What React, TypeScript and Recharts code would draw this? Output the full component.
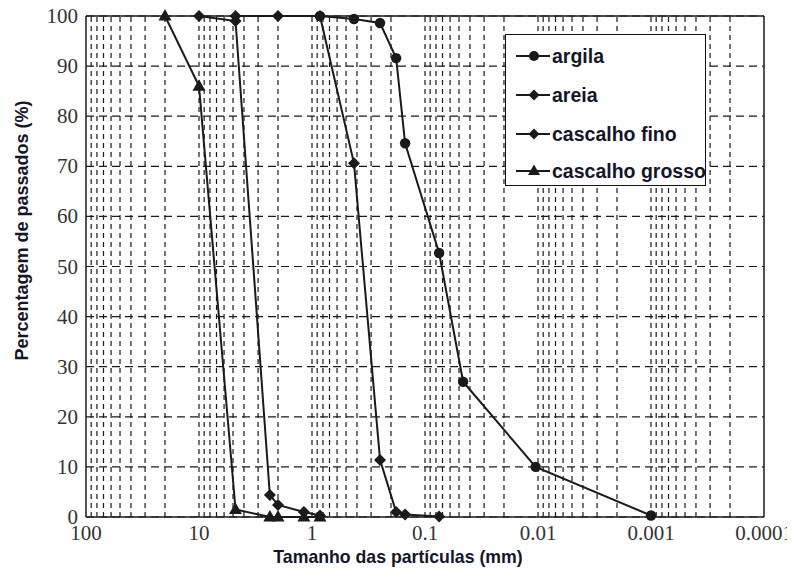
import React from 'react';
import { LineChart, Line, XAxis, YAxis, CartesianGrid, ReferenceLine, Legend, Label } from 'recharts';

// particle size (mm) and percentage passing for each material
const argilaSize = [0.85, 0.425, 0.25, 0.18, 0.15, 0.075, 0.046, 0.0105, 0.001];
const argilaPass = [100, 99.4, 98.6, 91.6, 74.6, 52.7, 27, 10, 0.3];
const areiaSize = [4.75, 2.0, 0.85, 0.425, 0.25, 0.18, 0.15, 0.075];
const areiaPass = [100, 100, 100, 70.6, 11.4, 1.0, 0.5, 0.1];
const finoSize = [10, 4.75, 2.36, 2.0, 1.18, 0.85];
const finoPass = [100, 99, 4.4, 2.4, 1.0, 0.3];
const grossoSize = [20, 10, 4.75, 2.36, 2.0, 1.18, 0.85];
const grossoPass = [100, 86, 1.5, 0, 0, 0, 0];

const xTicks = [100, 10, 1, 0.1, 0.01, 0.001, 0.0001];
const yTicks = [0, 10, 20, 30, 40, 50, 60, 70, 80, 90, 100];
const seriesNames = ['argila', 'areia', 'cascalho fino', 'cascalho grosso'];

const toPoints = (xs: number[], ys: number[]) => xs.map((x, i) => ({ x, y: ys[i] }));

const minorValues: number[] = [];
for (let e = -4; e <= 1; e++) {
  for (let k = 1; k <= 9; k++) {
    const v = Number((k * Math.pow(10, e)).toPrecision(3));
    if (v > 0.0001) minorValues.push(v);
  }
}

const INK = '#1a1a1a';
const SERIF = '"Liberation Serif", "Times New Roman", serif';
const SANS = '"Liberation Sans", Arial, sans-serif';

const circleDot = (p: any) => {
  if (p.cx == null || p.cy == null) return <g key={p.index} />;
  return <circle key={p.index} cx={p.cx} cy={p.cy} r={5.2} fill={INK} />;
};
const diamondDot = (p: any) => {
  if (p.cx == null || p.cy == null) return <g key={p.index} />;
  const { cx, cy } = p;
  const s = 6;
  return <path key={p.index} d={`M${cx},${cy - s}L${cx + s},${cy}L${cx},${cy + s}L${cx - s},${cy}Z`} fill={INK} />;
};
const triDot = (p: any) => {
  if (p.cx == null || p.cy == null) return <g key={p.index} />;
  const { cx, cy } = p;
  return <path key={p.index} d={`M${cx},${cy - 7}L${cx + 6.5},${cy + 4.5}L${cx - 6.5},${cy + 4.5}Z`} fill={INK} />;
};

const legendMarker = (i: number) => {
  const cx = 20, cy = 10;
  if (i === 0) return <circle cx={cx} cy={cy} r={5} fill={INK} />;
  if (i === 3) return <path d={`M${cx},${cy - 6.5}L${cx + 6},${cy + 4}L${cx - 6},${cy + 4}Z`} fill={INK} />;
  return <path d={`M${cx},${cy - 5.5}L${cx + 5.5},${cy}L${cx},${cy + 5.5}L${cx - 5.5},${cy}Z`} fill={INK} />;
};

const rowCenters = [21, 60, 99, 136];

const LegendBox = () => (
  <div
    style={{
      position: 'relative',
      width: 201,
      height: 152,
      boxSizing: 'border-box',
      border: '1.5px solid #111',
      background: '#fff',
    }}
  >
    {seriesNames.map((name, i) => (
      <div key={name} style={{ position: 'absolute', left: 8, top: rowCenters[i] - 11, height: 22, display: 'flex', alignItems: 'center' }}>
        <svg width={36} height={20} style={{ display: 'block' }}>
          <line x1={2} y1={10} x2={36} y2={10} stroke={INK} strokeWidth={2} />
          {legendMarker(i)}
        </svg>
        <span
          style={{
            marginLeft: 2,
            fontFamily: SANS,
            fontWeight: 'bold',
            fontSize: 19.5,
            color: '#15152a',
            whiteSpace: 'nowrap',
            lineHeight: '22px',
          }}
        >
          {name}
        </span>
      </div>
    ))}
  </div>
);

const XTick = (p: any) => (
  <text x={p.x} y={p.y + 16} textAnchor="middle" fontFamily={SERIF} fontSize={21} fill="#333">
    {String(p.payload.value)}
  </text>
);
const YTick = (p: any) => (
  <text x={p.x} y={p.y + 7} textAnchor="end" fontFamily={SERIF} fontSize={21} fill="#333">
    {String(p.payload.value)}
  </text>
);

export default function App() {
  const series = [
    { name: seriesNames[0], data: toPoints(argilaSize, argilaPass), dot: circleDot },
    { name: seriesNames[1], data: toPoints(areiaSize, areiaPass), dot: diamondDot },
    { name: seriesNames[2], data: toPoints(finoSize, finoPass), dot: diamondDot },
    { name: seriesNames[3], data: toPoints(grossoSize, grossoPass), dot: triDot },
  ];
  return (
    <div style={{ width: 787, height: 565, background: '#fff' }}>
      <LineChart width={787} height={565} margin={{ top: 8, right: 31, left: 0, bottom: 0 }}>
        <CartesianGrid vertical={false} stroke={INK} strokeDasharray="8 5" strokeWidth={1.2} />
        {minorValues.map((v) => (
          <ReferenceLine key={v} x={v} stroke={INK} strokeDasharray="5 4" strokeWidth={1.2} />
        ))}
        <ReferenceLine y={100} stroke={INK} strokeWidth={1.5} />
        <ReferenceLine x={0.0001} stroke={INK} strokeWidth={1.5} />
        <XAxis
          dataKey="x"
          type="number"
          scale="log"
          domain={[0.0001, 100]}
          reversed
          ticks={xTicks}
          interval={0}
          tick={<XTick />}
          tickSize={0}
          tickMargin={7}
          height={56}
          axisLine={{ stroke: INK, strokeWidth: 1.5 }}
          allowDataOverflow
        >
          <Label
            content={(props: any) => {
              const vb = props.viewBox || { x: 78, y: 509, width: 678 };
              return (
                <text
                  x={vb.x + vb.width / 2 - 27}
                  y={vb.y + 46}
                  textAnchor="middle"
                  fontFamily={SANS}
                  fontWeight="bold"
                  fontSize={17.7}
                  fill="#15152a"
                >
                  Tamanho das partículas (mm)
                </text>
              );
            }}
          />
        </XAxis>
        <YAxis
          type="number"
          domain={[0, 100]}
          ticks={yTicks}
          interval={0}
          tick={<YTick />}
          tickSize={0}
          tickMargin={8}
          width={78}
          axisLine={{ stroke: INK, strokeWidth: 1.5 }}
        >
          <Label
            content={(props: any) => {
              const vb = props.viewBox || { x: 0, y: 8, width: 78, height: 501 };
              const cy = vb.y + vb.height / 2 - 36;
              const cx = 14;
              return (
                <text
                  x={cx}
                  y={cy}
                  transform={`rotate(-90, ${cx}, ${cy})`}
                  textAnchor="middle"
                  dominantBaseline="central"
                  fontFamily={SANS}
                  fontWeight="bold"
                  fontSize={18}
                  fill="#15152a"
                >
                  Percentagem de passados (%)
                </text>
              );
            }}
          />
        </YAxis>
        {series.map((s) => (
          <Line
            key={s.name}
            name={s.name}
            data={s.data}
            dataKey="y"
            type="linear"
            stroke={INK}
            strokeWidth={2}
            dot={s.dot}
            activeDot={false}
            isAnimationActive={false}
          />
        ))}
        <Legend
          layout="horizontal"
          verticalAlign="middle"
          align="center"
          content={() => <LegendBox />}
          wrapperStyle={{ left: 497, top: 26, width: 201, height: 152 }}
        />
      </LineChart>
    </div>
  );
}
